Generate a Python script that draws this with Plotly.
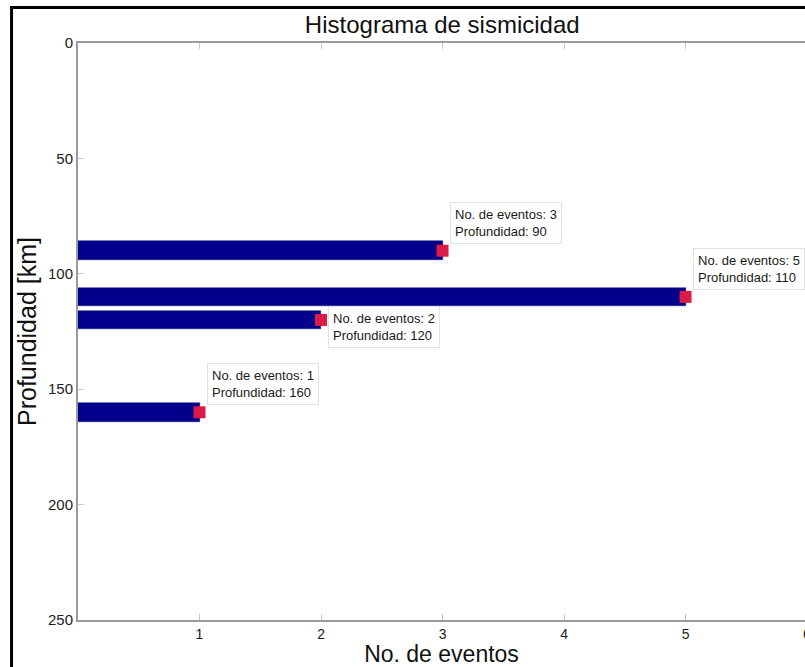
import plotly.graph_objects as go

# Seismicity histogram: number of events per depth bin
depths_km = [90, 110, 120, 160]
event_counts = [3, 5, 2, 1]
y_ticks = [0, 50, 100, 150, 200, 250]
x_ticks = [1, 2, 3, 4, 5]

# Datatip placement per point: (vertical anchor, vertical shift in px)
tip_anchor = ["bottom", "bottom", "top", "bottom"]
tip_yshift = [7, 7, 14, 7]

FONT = "Liberation Sans, Arial, Helvetica, sans-serif"
AXIS_GREY = "#9a9a9a"

fig = go.Figure()

fig.add_trace(go.Bar(
    y=depths_km,
    x=event_counts,
    orientation="h",
    width=8,
    marker=dict(color="#00008B", line=dict(color="#1a1a8a", width=0.5)),
    showlegend=False,
    hoverinfo="skip",
))

fig.add_trace(go.Scatter(
    x=event_counts,
    y=depths_km,
    mode="markers",
    marker=dict(symbol="square", size=12, color="#DC1C48"),
    showlegend=False,
    cliponaxis=False,
))

for n, d, anc, ys in zip(event_counts, depths_km, tip_anchor, tip_yshift):
    fig.add_annotation(
        x=n, y=d, xref="x", yref="y",
        text=f"No. de eventos: {n}<br>Profundidad: {d}",
        showarrow=False,
        xanchor="left", yanchor=anc,
        xshift=7, yshift=ys,
        align="left",
        font=dict(family=FONT, size=13, color="#1a1a1a"),
        bgcolor="white",
        bordercolor="#e2e2e2",
        borderwidth=1,
        borderpad=4,
    )

# Tick label for 6 sits at the right edge of the page
fig.add_annotation(
    x=6 / 5.983, y=0, xref="paper", yref="paper",
    text="6", showarrow=False, xanchor="center", yanchor="top",
    yshift=-4, font=dict(family=FONT, size=14, color="#222"),
)

# Outer figure frame
fig.add_shape(
    type="rect", xref="paper", yref="paper",
    x0=-0.0914, x1=1.2, y0=-0.3, y1=1.0615,
    line=dict(color="black", width=3), fillcolor="rgba(0,0,0,0)",
    layer="below",
)

fig.update_layout(
    width=805, height=667,
    margin=dict(l=77.5, r=0, t=43, b=47),
    paper_bgcolor="white",
    plot_bgcolor="white",
    font=dict(family=FONT, color="#222"),
    title=dict(
        text="Histograma de sismicidad",
        x=(77.5 + 729.5 / 2) / 805, xanchor="center",
        y=1 - 25 / 667, yanchor="middle", yref="container",
        font=dict(family=FONT, size=24, color="#111"),
    ),
    bargap=0,
)

fig.update_xaxes(
    range=[0, 5.983],
    tickvals=x_ticks,
    ticks="inside", ticklen=6, tickcolor="#c8c8c8", tickwidth=1,
    showline=True, linecolor=AXIS_GREY, linewidth=2, mirror="ticks",
    showgrid=False, zeroline=False,
    tickfont=dict(family=FONT, size=14, color="#222"),
    title=dict(text="No. de eventos", font=dict(family=FONT, size=23, color="#111"), standoff=2),
)

fig.update_yaxes(
    range=[250, 0],
    tickvals=y_ticks,
    ticks="inside", ticklen=6, tickcolor="#c8c8c8", tickwidth=1,
    showline=True, linecolor=AXIS_GREY, linewidth=2, mirror=False,
    showgrid=False, zeroline=False,
    tickfont=dict(family=FONT, size=15, color="#222"),
    title=dict(text="Profundidad [km]", font=dict(family=FONT, size=25, color="#111"), standoff=4),
)

fig.write_html("out.html")
